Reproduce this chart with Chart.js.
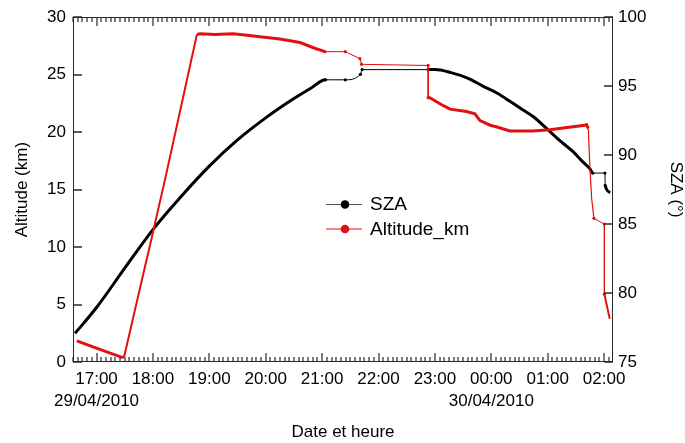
<!DOCTYPE html>
<html><head><meta charset="utf-8">
<script src="https://cdn.jsdelivr.net/npm/chart.js@4"></script>
<style>html,body{margin:0;padding:0;background:#fff}#c{display:block}</style>
</head><body>
<canvas id="c" width="685" height="443"></canvas>
<script>
// ---- tick labels ----
const hourTicks  = [17, 18, 19, 20, 21, 22, 23, 24, 25, 26];
const hourLabels = ['17:00','18:00','19:00','20:00','21:00','22:00','23:00','00:00','01:00','02:00'];
const dateLabels = ['29/04/2010','','','','','','','30/04/2010','',''];

// ---- SZA series (time in decimal hours UTC from 29/04 00:00; null = data gap) ----
const szaTime = [16.62, 17.0, 17.5, 18.0, 18.5, 19.0, 19.5, 20.0, 20.5, 20.8, 21.06, null, 21.41, null, 21.68, null, 21.71, null,
                 22.88, 23.0, 23.27, 23.6, 23.85, 24.1, 24.33, 24.55, 24.74, 24.99, 25.2, 25.45, 25.6, 25.75, 25.80, null,
                 26.015, null, 26.02, 26.11];
const szaDeg  = [77.08, 78.95, 81.8, 84.6, 87.0, 89.2, 91.1, 92.7, 94.1, 94.85, 95.46, null, 95.46, null, 95.86, null, 96.2, null,
                 96.2, 96.2, 96.0, 95.55, 95.0, 94.5, 93.9, 93.3, 92.8, 91.9, 91.1, 90.25, 89.6, 89.0, 88.7, null,
                 88.7, null, 87.8, 87.3];

// ---- Altitude series ----
const altTime = [16.65, 17.06, 17.45, 17.49, 17.68, 17.95, 18.22, 18.48, 18.69, 18.78, 18.84, 19.10, 19.42, 19.63, 19.90, 20.25,
                 20.61, 20.87, 21.05, null, 21.41, null, 21.67, null, 21.70, null, 22.88, null, 22.88, 22.91, 23.15, 23.27,
                 23.56, 23.71, 23.80, 23.98, 24.10, 24.33, 24.74, 25.04, 25.34, 25.66, 25.69, 25.72, 25.75, 25.78, 25.82, null,
                 26.005, null, 26.005, 26.10];
const altKm   = [1.84, 1.1, 0.41, 0.45, 4.5, 10.2, 16.0, 21.8, 26.5, 28.5, 28.55, 28.5, 28.55, 28.45, 28.3, 28.1,
                 27.8, 27.3, 27.0, null, 27.0, null, 26.4, null, 25.9, null, 25.8, null, 23.0, 23.0, 22.3, 22.0,
                 21.8, 21.6, 21.0, 20.6, 20.45, 20.1, 20.1, 20.2, 20.4, 20.6, 20.65, 20.3, 16.8, 14.2, 12.5, null,
                 12.0, null, 5.9, 3.75];

function build(times, vals) {
  const out = []; let lastX = times[0];
  for (let i = 0; i < times.length; i++) {
    const x = times[i] == null ? lastX : times[i];
    lastX = x;
    out.push({x: x, y: vals[i]});
  }
  return out;
}

const FONT = "'Liberation Sans', Arial, Helvetica, sans-serif";
Chart.defaults.font.family = FONT;
Chart.defaults.font.size = 17;
Chart.defaults.color = '#000';

const RED = 'rgb(226,16,16)';

function segWidth(ctx) {
  if (ctx.p0.skip || ctx.p1.skip) return 1;
  const dx = Math.abs(ctx.p1.x - ctx.p0.x), dy = Math.abs(ctx.p1.y - ctx.p0.y);
  if (dy > 6 * dx) return 1.2;
  if (dy > 3 * dx) return 2;
  return 3;
}
function ptRadius(vals) {
  return (ctx) => {
    const i = ctx.dataIndex;
    if (vals[i] == null) return 0;
    const prev = vals[i - 1], next = vals[i + 1];
    if (i > 0 && prev == null) return 1.6;
    if (i < vals.length - 1 && next == null) return 1.6;
    return 0;
  };
}

const frameTicks = {
  id: 'frameTicks',
  afterDraw(chart) {
    const ctx = chart.ctx, a = chart.chartArea;
    const L = Math.round(a.left), R = Math.round(a.right), T = Math.round(a.top), B = Math.round(a.bottom);
    ctx.save();
    ctx.fillStyle = '#2a2a2a';
    // frame
    ctx.fillRect(L, T, R - L, 1);
    ctx.fillRect(L, B - 1, R - L, 1);
    ctx.fillRect(L, T, 1, B - T);
    ctx.fillRect(R - 1, T, 1, B - T);
    const sy = chart.scales.y, sy2 = chart.scales.y2, sx = chart.scales.x;
    for (let v = 0; v <= 30; v += 5) {
      const y = Math.round(sy.getPixelForValue(v));
      ctx.fillRect(L, y - 0.75, 9, 1.5);
    }
    for (let v = 75; v <= 100; v += 5) {
      const y = Math.round(sy2.getPixelForValue(v));
      ctx.fillRect(R - 9, y - 0.75, 9, 1.5);
    }
    const m0 = Math.ceil(sx.min * 12 - 1e-6), m1 = Math.floor(sx.max * 12 + 1e-6);
    for (let m = m0; m <= m1; m++) {
      const px = Math.round(sx.getPixelForValue(m / 12));
      const len = (m % 12 === 0) ? 9 : 5;
      ctx.fillRect(px - 0.6, B - len, 1.2, len);
      ctx.fillRect(px - 0.6, T, 1.2, len);
    }
    ctx.restore();
  }
};

const innerLegend = {
  id: 'innerLegend',
  afterDatasetsDraw(chart) {
    const ctx = chart.ctx;
    ctx.save();
    chart.data.datasets.forEach((ds, i) => {
      const y = 204 + i * 24.5;
      ctx.strokeStyle = ds.legendLine;
      ctx.lineWidth = 1;
      ctx.beginPath(); ctx.moveTo(326, y + 0.5); ctx.lineTo(362, y + 0.5); ctx.stroke();
      ctx.fillStyle = ds.borderColor;
      ctx.beginPath(); ctx.arc(345, y + 0.5, 4.3, 0, Math.PI * 2); ctx.fill();
      ctx.fillStyle = '#000';
      ctx.font = '19px ' + FONT;
      ctx.textBaseline = 'middle';
      ctx.textAlign = 'left';
      ctx.fillText(ds.label, 370, y + 1);
    });
    ctx.restore();
  }
};

new Chart(document.getElementById('c'), {
  type: 'line',
  data: {
    datasets: [
      {
        label: 'SZA', data: build(szaTime, szaDeg), yAxisID: 'y2',
        borderColor: '#000', backgroundColor: '#000', legendLine: '#555',
        borderWidth: 3, spanGaps: true, cubicInterpolationMode: 'monotone',
        pointRadius: ptRadius(szaDeg), pointBorderWidth: 0, pointBackgroundColor: '#000',
        segment: { borderWidth: segWidth }, order: 2
      },
      {
        label: 'Altitude_km', data: build(altTime, altKm), yAxisID: 'y',
        borderColor: RED, backgroundColor: RED, legendLine: RED,
        borderWidth: 3, spanGaps: true, tension: 0,
        pointRadius: ptRadius(altKm), pointBorderWidth: 0, pointBackgroundColor: RED,
        segment: { borderWidth: segWidth }, order: 1
      }
    ]
  },
  options: {
    responsive: false, animation: false, events: [],
    layout: { padding: { top: 14, left: 0, right: 0, bottom: 0 } },
    plugins: { legend: { display: false }, tooltip: { enabled: false } },
    scales: {
      x: {
        type: 'linear', min: 16.583, max: 26.158,
        afterBuildTicks: s => { s.ticks = hourTicks.map(v => ({ value: v })); },
        afterFit: s => { s.height = 81; },
        grid: { display: false, drawTicks: false }, border: { display: false },
        ticks: {
          autoSkip: false, maxRotation: 0, padding: 6, color: '#000', font: { size: 17, lineHeight: 1.3 },
          callback: (v) => {
            const i = hourTicks.indexOf(v);
            if (i < 0) return '';
            return dateLabels[i] ? [hourLabels[i], dateLabels[i]] : hourLabels[i];
          }
        },
        title: { display: true, text: 'Date et heure', color: '#000', font: { size: 17, lineHeight: 1 }, padding: { top: 0, bottom: 2.5 } }
      },
      y: {
        position: 'left', min: 0, max: 30,
        afterFit: s => { s.width = 73; },
        grid: { display: false, drawTicks: false }, border: { display: false },
        ticks: { stepSize: 5, padding: 7, color: '#000', font: { size: 17 } },
        title: { display: true, text: 'Altitude (km)', color: '#000', font: { size: 17, lineHeight: 1 }, padding: { top: 13.5, bottom: 0 } }
      },
      y2: {
        position: 'right', min: 75, max: 100,
        afterFit: s => { s.width = 72; },
        grid: { display: false, drawTicks: false }, border: { display: false },
        ticks: { stepSize: 5, padding: 5, color: '#000', font: { size: 17 } },
        title: { display: true, text: 'SZA (°)', color: '#000', font: { size: 17, lineHeight: 1 }, padding: { top: 0.5, bottom: 0 } }
      }
    }
  },
  plugins: [frameTicks, innerLegend]
});
</script>
</body></html>
